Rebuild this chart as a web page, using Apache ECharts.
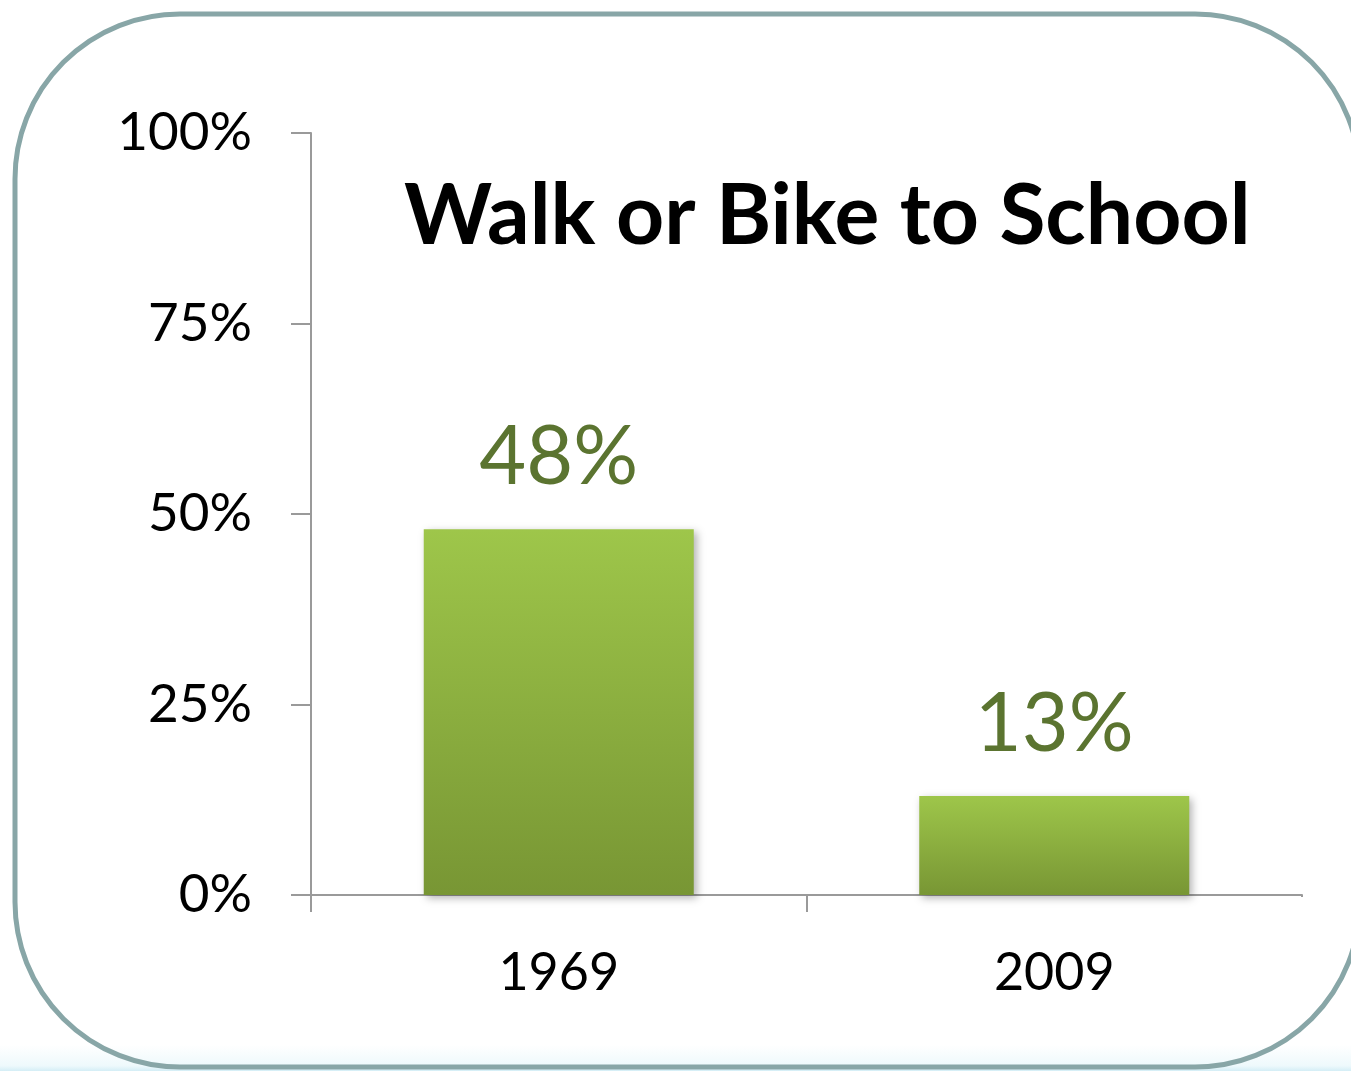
<!DOCTYPE html>
<html>
<head>
<meta charset="utf-8">
<style>
  html, body { margin: 0; padding: 0; background: #ffffff; }
  #chart { width: 1351px; height: 1071px; }
</style>
<script src="https://cdn.jsdelivr.net/npm/echarts@6/dist/echarts.min.js"></script>
</head>
<body>
<div id="chart"></div>
<script>
const titleText = 'Walk or Bike to School';
const categories = ['1969', '2009'];
const shares = [48, 13];
const yTicks = [0, 25, 50, 75, 100];

const chart = echarts.init(document.getElementById('chart'), null, { renderer: 'canvas' });
const FONT = 'Lato, "Open Sans", sans-serif';

chart.setOption({
  backgroundColor: '#ffffff',
  animation: false,
  title: {
    text: titleText,
    left: 399,
    top: 170,
    textStyle: { fontFamily: FONT, fontWeight: 'bold', fontSize: 84, color: '#000000' }
  },
  graphic: [
    {
      type: 'rect', z: -10, silent: true,
      shape: { x: 0, y: 1045, width: 1351, height: 26 },
      style: { fill: new echarts.graphic.LinearGradient(0, 0, 0, 1, [
        { offset: 0, color: 'rgba(255,255,255,1)' },
        { offset: 0.8, color: '#eef9fc' },
        { offset: 1, color: '#d4eef6' }
      ]) }
    },
    {
      // hide the closing band tick at the right end of the category axis
      type: 'rect', z: 50, silent: true,
      shape: { x: 1296, y: 897, width: 10, height: 22 },
      style: { fill: '#ffffff' }
    },
    {
      type: 'rect', z: 100, silent: true,
      shape: { x: 15, y: 14, width: 1345, height: 1053, r: 165 },
      style: { fill: null, stroke: '#88a6a7', lineWidth: 5 }
    }
  ],
  grid: { left: 311, right: 49, top: 133, bottom: 176, containLabel: false },
  xAxis: {
    type: 'category',
    data: categories,
    axisLine: { show: true, lineStyle: { color: '#9a9a9a', width: 2 } },
    axisTick: { show: true, length: 17, lineStyle: { color: '#9a9a9a', width: 2 } },
    axisLabel: { margin: 52, fontFamily: FONT, fontSize: 52, color: '#000000' }
  },
  yAxis: {
    type: 'value',
    min: 0, max: 100, interval: 25,
    axisLine: { show: true, lineStyle: { color: '#9a9a9a', width: 2 } },
    axisTick: { show: true, length: 20, lineStyle: { color: '#9a9a9a', width: 2 } },
    splitLine: { show: false },
    axisLabel: {
      margin: 59, fontFamily: FONT, fontSize: 53, color: '#000000',
      formatter: function (v) { return yTicks.indexOf(v) >= 0 ? v + '%' : ''; }
    }
  },
  series: [{
    type: 'bar',
    data: shares,
    barWidth: 270,
    itemStyle: {
      color: new echarts.graphic.LinearGradient(0, 0, 0, 1, [
        { offset: 0, color: '#9ec64a' },
        { offset: 1, color: '#789634' }
      ]),
      shadowBlur: 8, shadowOffsetX: 3, shadowOffsetY: 3, shadowColor: 'rgba(0,0,0,0.3)'
    },
    label: {
      show: true, position: 'top', distance: 31,
      fontFamily: FONT, fontSize: 81, color: '#5b7430',
      formatter: '{c}%'
    }
  }]
});
</script>
</body>
</html>
